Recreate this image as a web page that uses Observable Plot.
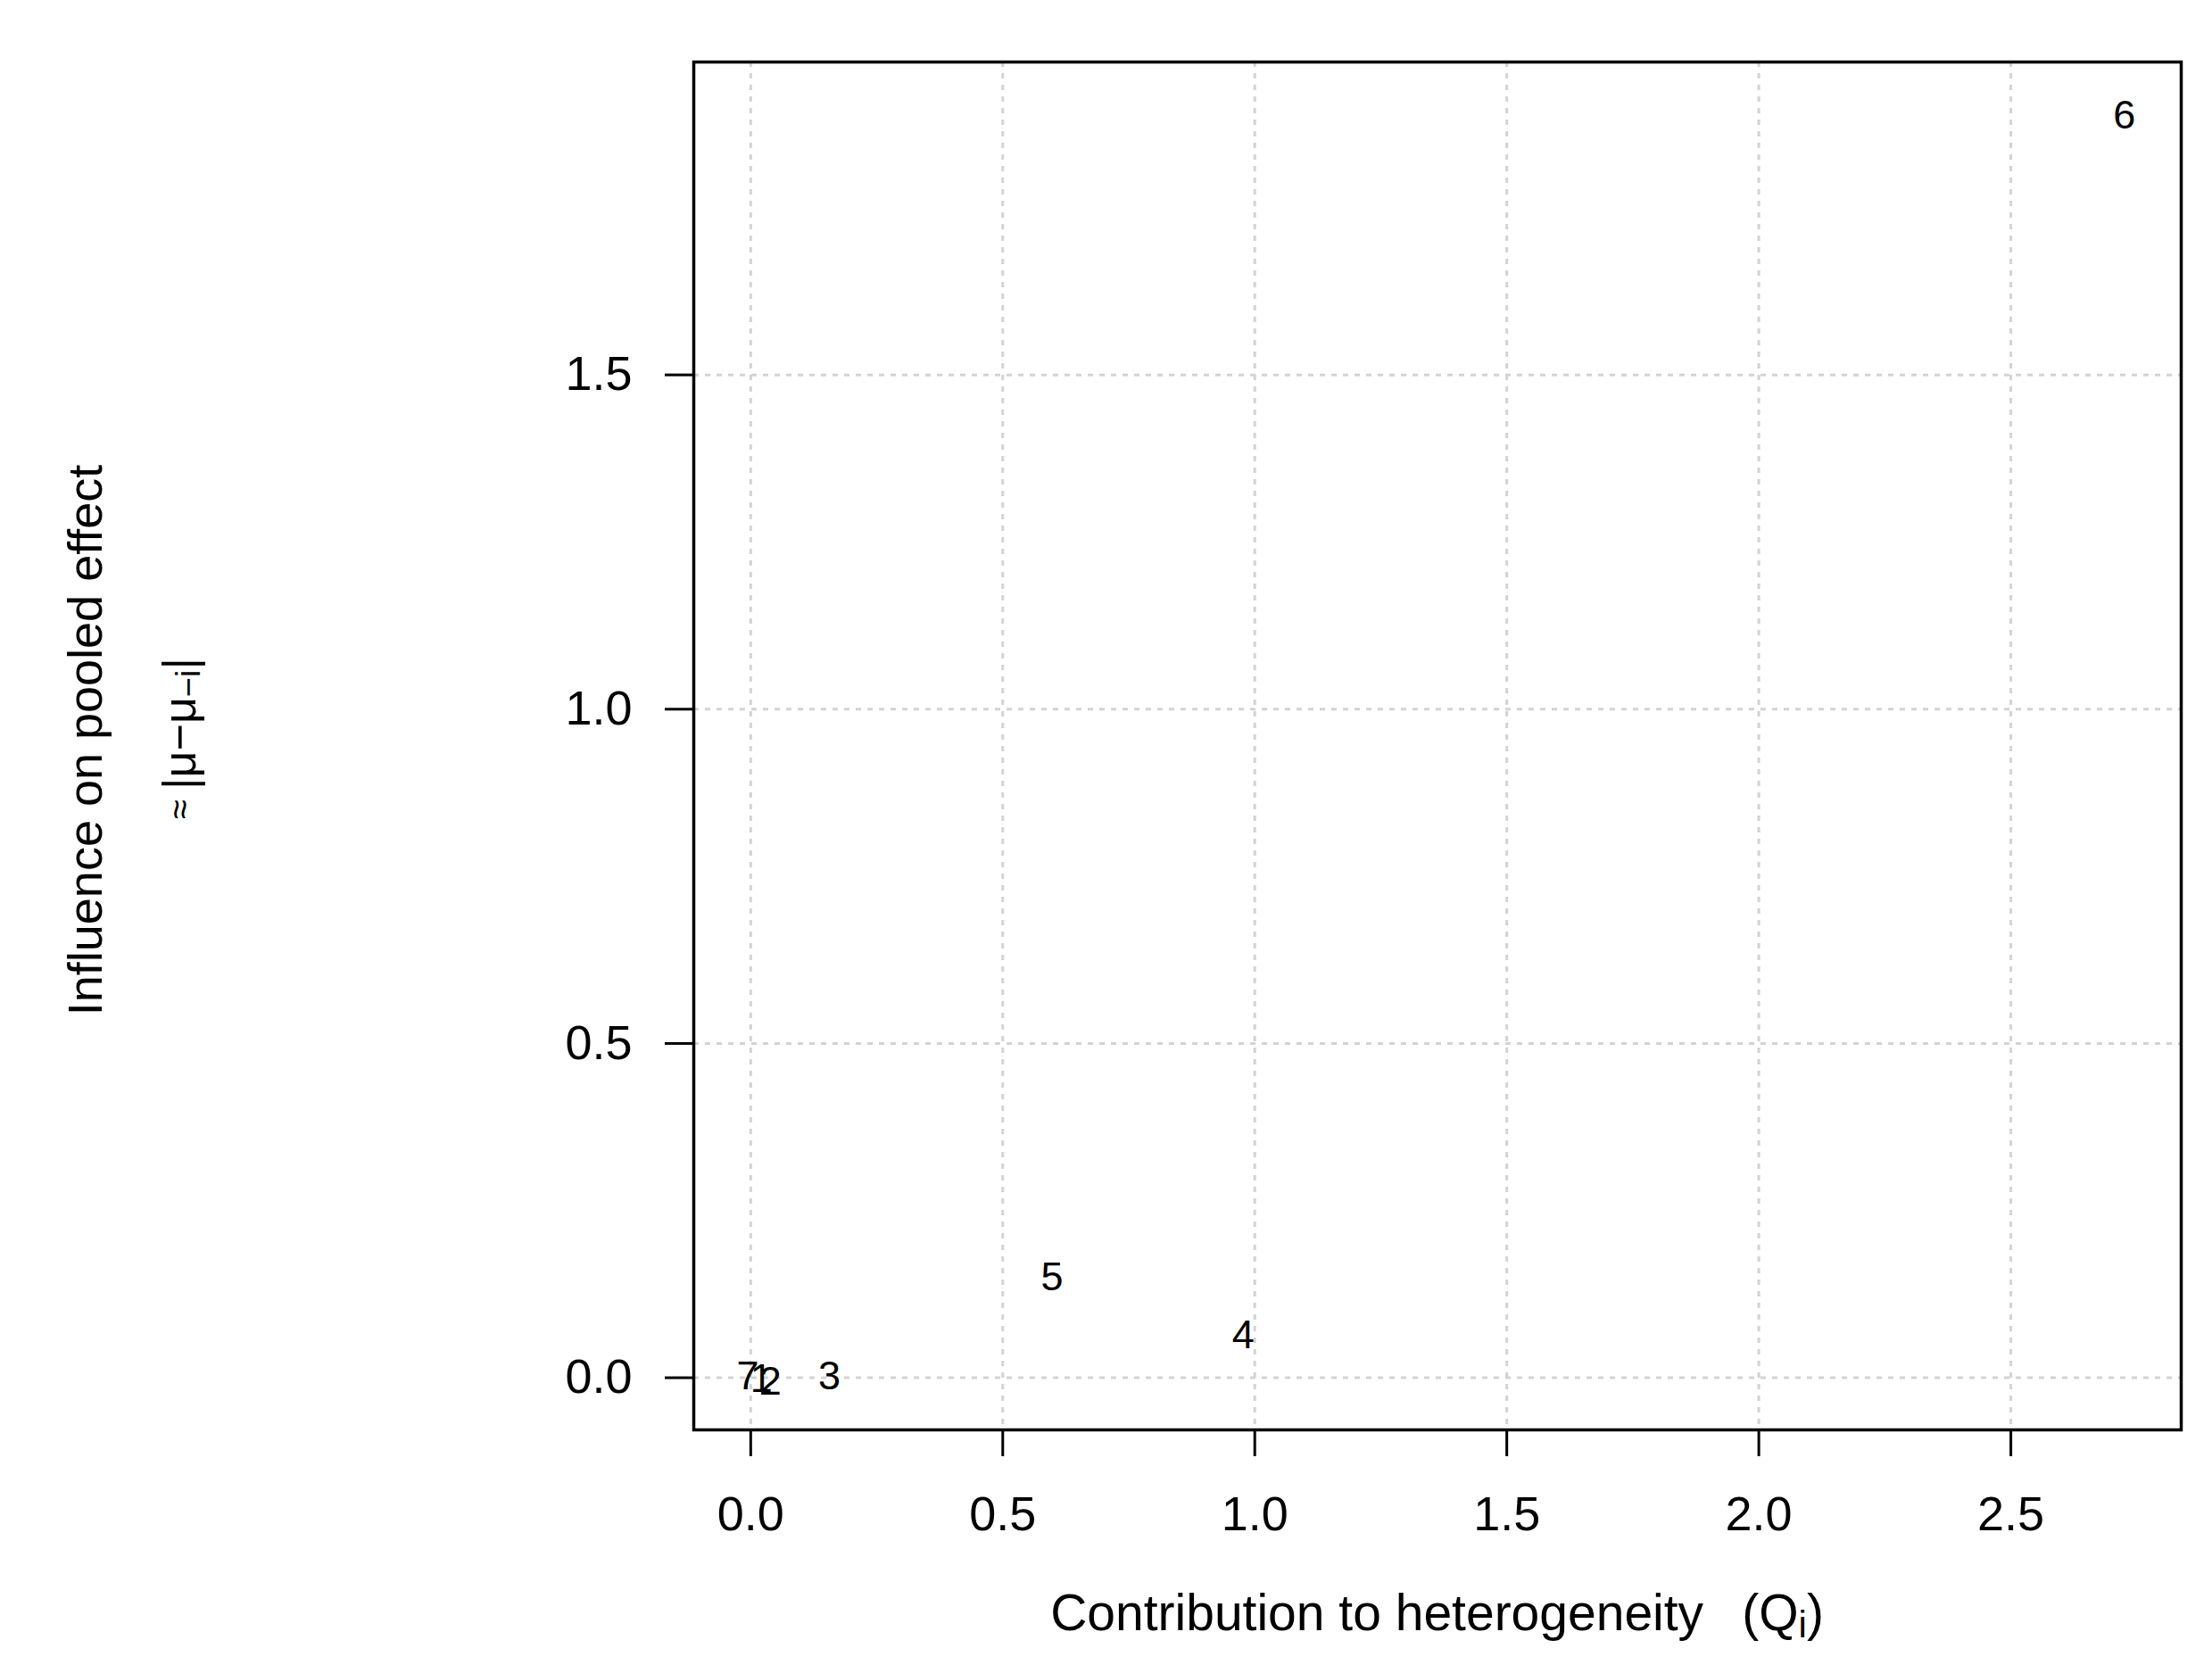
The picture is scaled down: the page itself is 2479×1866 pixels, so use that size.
<!DOCTYPE html>
<html><head><meta charset="utf-8">
<script src="https://cdn.jsdelivr.net/npm/d3@7"></script>
<script src="https://cdn.jsdelivr.net/npm/@observablehq/plot@0.6"></script>
<style>body{margin:0;background:#fff} svg{display:block}</style>
</head><body><div id="chart"></div>
<script>
// Study labels and their values
const studyLabels = ["1", "2", "3", "4", "5", "6", "7"];
const contributionQ = [0.021, 0.039, 0.156, 0.977, 0.598, 2.725, -0.006];
const influence = [-0.002, -0.006, 0.002, 0.063, 0.150, 1.888, 0.002];
const xTicks = [0, 0.5, 1.0, 1.5, 2.0, 2.5];
const yTicks = [0, 0.5, 1.0, 1.5];
const xTitleMain = "Contribution to heterogeneity  \u2009(Q";
const xTitleSub = "i";
const yTitleLine1 = "Influence on pooled effect";

const data = studyLabels.map((l, i) => ({label: l, q: contributionQ[i], inf: influence[i]}));

const W = 2479, H = 1866;
const mL = 777, mR = 35, mT = 69, mB = 264;
const font = "'Liberation Sans', Arial, sans-serif";

const plot = Plot.plot({
  width: W, height: H,
  marginLeft: mL, marginRight: mR, marginTop: mT, marginBottom: mB,
  style: {fontFamily: font, background: "#fff", color: "#000"},
  x: {domain: [-0.113, 2.838], label: null},
  y: {domain: [-0.078, 1.968], label: null},
  marks: [
    Plot.gridX(xTicks, {stroke: "#d3d3d3", strokeOpacity: 1, strokeWidth: 3, strokeDasharray: "6,7"}),
    Plot.gridY(yTicks, {stroke: "#d3d3d3", strokeOpacity: 1, strokeWidth: 3, strokeDasharray: "6,7"}),
    Plot.axisX(xTicks, {tickSize: 30, tickPadding: 44, strokeWidth: 3, fontSize: 54, tickFormat: d3.format(".1f"), label: null}),
    Plot.axisY(yTicks, {tickSize: 32, tickPadding: 37, strokeWidth: 3, fontSize: 54, tickFormat: d3.format(".1f"), label: null}),
    Plot.frame({stroke: "#000", strokeWidth: 3.5}),
    Plot.text(data, {x: "q", y: "inf", text: "label", fontSize: 45, fill: "#000", fontFamily: font})
  ]
});
document.getElementById("chart").appendChild(plot);

const svg = d3.select(plot);
const cx = mL + (W - mL - mR) / 2;
const cy = mT + (H - mT - mB) / 2;

// x title
const xt = svg.append("text")
  .attr("x", cx).attr("y", 1807)
  .attr("text-anchor", "middle").attr("dominant-baseline", "central")
  .style("white-space", "pre")
  .attr("font-family", font).attr("font-size", 57).attr("fill", "#000");
xt.append("tspan").text(xTitleMain);
xt.append("tspan").attr("font-size", 42).attr("dy", 13).text(xTitleSub);
xt.append("tspan").attr("dy", -13).text(")");

// y title line 1
svg.append("text")
  .attr("transform", `translate(95,${cy - 6}) rotate(-90)`)
  .attr("text-anchor", "middle").attr("dominant-baseline", "central")
  .attr("font-family", font).attr("font-size", 54).attr("fill", "#000")
  .text(yTitleLine1);

// y title line 2: ≈ |μ − μ₋ᵢ|
const yt2 = svg.append("text")
  .attr("transform", `translate(201,${cy - 8}) rotate(-90)`)
  .attr("text-anchor", "middle").attr("dominant-baseline", "central")
  .style("white-space", "pre")
  .attr("font-family", font).attr("font-size", 52).attr("fill", "#000");
yt2.append("tspan").attr("font-size", 40).text("≈ ");
yt2.append("tspan").text("|μ−μ");
yt2.append("tspan").attr("font-size", 38).attr("dy", 10).text("−i");
yt2.append("tspan").attr("dy", -10).text("|");
</script>
</body></html>
